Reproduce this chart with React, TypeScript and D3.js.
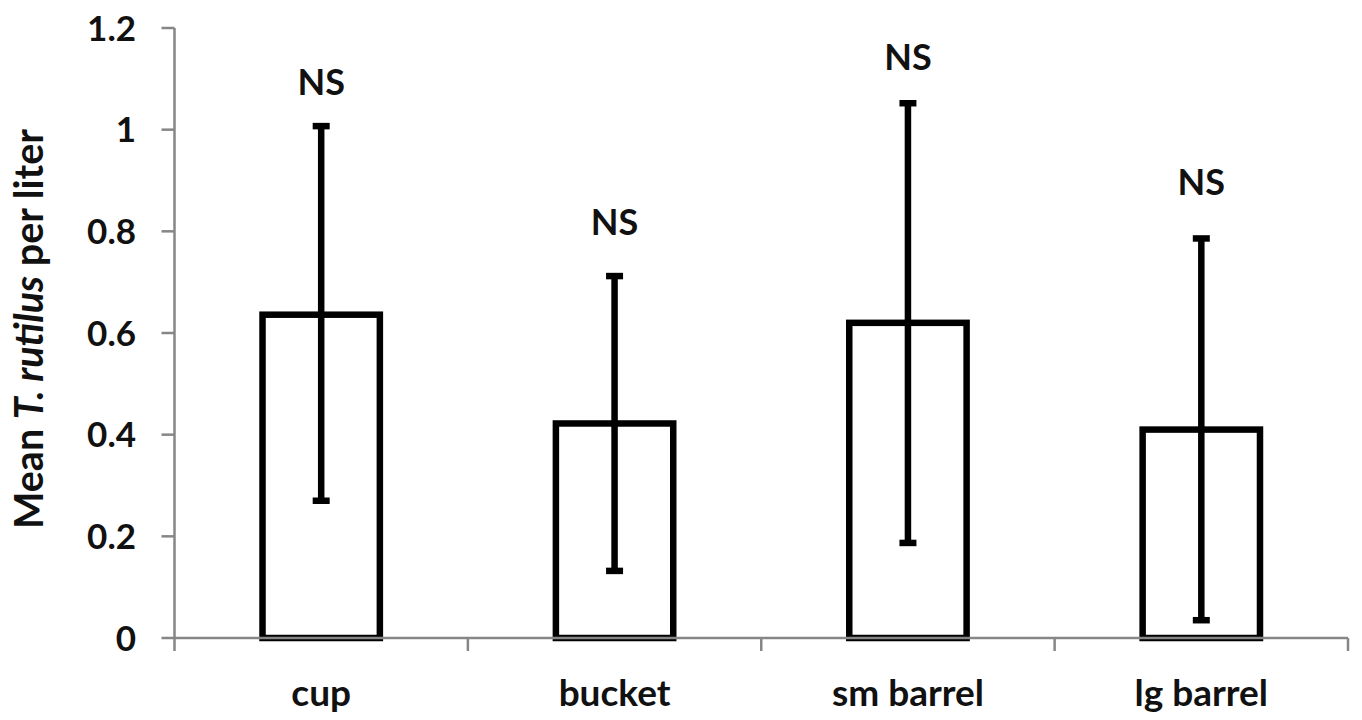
import React from "react";
import * as d3 from "d3";

const categories = ["cup", "bucket", "sm barrel", "lg barrel"];
const means = [0.636, 0.422, 0.62, 0.41];
const upperErr = [1.007, 0.712, 1.052, 0.786];
const lowerErr = [0.27, 0.132, 0.187, 0.035];
const sigLabels = ["NS", "NS", "NS", "NS"];
const sigLabelY = [1.068, 0.793, 1.117, 0.871];
const yTicks = [0, 0.2, 0.4, 0.6, 0.8, 1, 1.2];

const W = 1362;
const H = 720;
const FONT = "Lato, 'Open Sans', sans-serif";
const AXIS = "#868686";

export default function App() {
  const y = d3.scaleLinear().domain([0, 1.2]).range([638, 28]);
  const x = d3.scaleBand<string>().domain(categories).range([174.5, 1348]).padding(0);
  const bw = x.bandwidth();
  const barW = bw * 0.4;
  const capW = 17;
  const x0 = 174.5;
  const bandEdges = [x0, ...categories.map((c) => (x(c) as number) + bw)];

  return (
    <svg
      width={W}
      height={H}
      style={{ position: "absolute", left: 0, top: 0, background: "#fff" }}
      fontFamily={FONT}
    >
      <rect x={0} y={0} width={W} height={H} fill="#fff" />
      {categories.map((c, i) => {
        const cx = (x(c) as number) + bw / 2;
        return (
          <rect
            key={"b" + c}
            x={cx - barW / 2}
            y={y(means[i])}
            width={barW}
            height={y(0) - y(means[i])}
            fill="#fff"
            stroke="#000"
            strokeWidth={6.5}
          />
        );
      })}
      <line x1={x0} x2={x0} y1={y(1.2)} y2={y(0)} stroke={AXIS} strokeWidth={2.5} />
      <line x1={x0} x2={1348} y1={y(0)} y2={y(0)} stroke={AXIS} strokeWidth={2.5} />
      {yTicks.map((t) => (
        <g key={"yt" + t}>
          <line x1={x0 - 13} x2={x0} y1={y(t)} y2={y(t)} stroke={AXIS} strokeWidth={2.5} />
          <text
            x={136}
            y={y(t)}
            dy="0.36em"
            textAnchor="end"
            fontSize={35}
            fontWeight={700}
            fill="#111"
          >
            {String(t)}
          </text>
        </g>
      ))}
      {bandEdges.map((e, i) => (
        <line key={"xt" + i} x1={e} x2={e} y1={y(0)} y2={y(0) + 13} stroke={AXIS} strokeWidth={2.5} />
      ))}
      {categories.map((c, i) => {
        const cx = (x(c) as number) + bw / 2;
        return (
          <g key={"e" + c} stroke="#000" strokeWidth={6.5}>
            <line x1={cx} x2={cx} y1={y(upperErr[i])} y2={y(lowerErr[i])} />
            <line x1={cx - capW / 2} x2={cx + capW / 2} y1={y(upperErr[i])} y2={y(upperErr[i])} />
            <line x1={cx - capW / 2} x2={cx + capW / 2} y1={y(lowerErr[i])} y2={y(lowerErr[i])} />
          </g>
        );
      })}
      {categories.map((c, i) => (
        <text
          key={"s" + c}
          x={(x(c) as number) + bw / 2}
          y={y(sigLabelY[i])}
          textAnchor="middle"
          fontSize={36}
          fontWeight={700}
          fill="#111"
        >
          {sigLabels[i]}
        </text>
      ))}
      {categories.map((c) => (
        <text
          key={"c" + c}
          x={(x(c) as number) + bw / 2}
          y={706}
          textAnchor="middle"
          fontSize={37}
          fontWeight={700}
          fill="#111"
        >
          {c}
        </text>
      ))}
      <text
        transform={`translate(43, ${(y(0) + y(1.2)) / 2 - 4}) rotate(-90)`}
        textAnchor="middle"
        fontSize={39.5}
        fontWeight={700}
        fill="#111"
      >
        <tspan>Mean </tspan>
        <tspan fontStyle="italic">T. rutilus</tspan>
        <tspan> per liter</tspan>
      </text>
    </svg>
  );
}
